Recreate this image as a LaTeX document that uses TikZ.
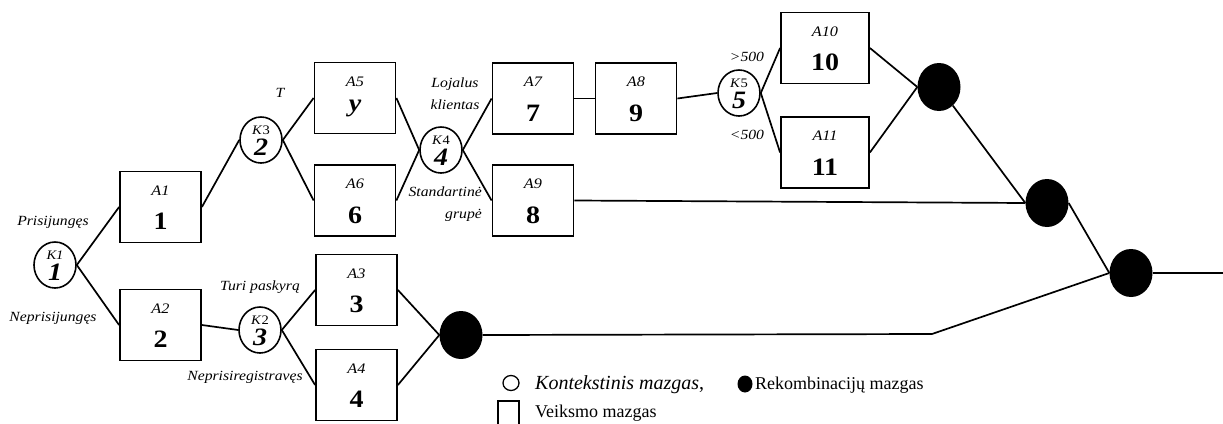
\documentclass[tikz,border=0pt]{standalone}
\usepackage{fontspec}
\setmainfont[FakeStretch=1.12]{Liberation Serif}
\newfontfamily\legfont{Liberation Serif}
\usetikzlibrary{shapes.geometric}
\tikzset{
 act/.style={draw, line width=1.8pt, minimum width=81pt, minimum height=71pt, inner sep=0},
 ctx/.style={draw, ellipse, line width=1.6pt, minimum width=42pt, minimum height=46pt, inner sep=0},
 rec/.style={fill=black, ellipse, minimum width=43pt, minimum height=48pt, inner sep=0},
 ln/.style={line width=1.7pt},
 alab/.style={font=\fontsize{14.5}{16}\selectfont\itshape, inner sep=0},
 anum/.style={font=\fontsize{25}{27}\selectfont\bfseries, inner sep=0},
 klab/.style={font=\fontsize{13}{14}\selectfont, inner sep=0},
 knum/.style={font=\fontsize{25}{27}\selectfont\bfseries\itshape, inner sep=0},
 blab/.style={font=\fontsize{14}{22}\selectfont\itshape, inner sep=0, align=center},
 leg/.style={font=\legfont\fontsize{18}{20}\selectfont, inner sep=0, anchor=base west},
}
\begin{document}
\begin{tikzpicture}[x=1pt,y=-1pt]
\useasboundingbox (0,0) rectangle (1223,423);
% context nodes
\node[ctx] (K1) at (55,265) {};
\node[klab] (K1a) at ([yshift=10pt]K1.center) {\itshape K1};
\node[knum] (K1b) at ([yshift=-7pt]K1.center) {1};
\node[ctx] (K2) at (260,330) {};
\node[klab] (K2a) at ([yshift=10pt]K2.center) {\textit{K}2};
\node[knum] (K2b) at ([yshift=-7pt]K2.center) {3};
\node[ctx] (K3) at (261,140) {};
\node[klab] (K3a) at ([yshift=10pt]K3.center) {\textit{K}3};
\node[knum] (K3b) at ([yshift=-7pt]K3.center) {2};
\node[ctx] (K4) at (441,150) {};
\node[klab] (K4a) at ([yshift=10pt]K4.center) {\textit{K}4};
\node[knum] (K4b) at ([yshift=-7pt]K4.center) {4};
\node[ctx] (K5) at (739,93) {};
\node[klab] (K5a) at ([yshift=10pt]K5.center) {\textit{K}5};
\node[knum] (K5b) at ([yshift=-7pt]K5.center) {5};
% action nodes
\node[act] (A1) at (160.5,207) {};
\node[act] (A2) at (160.5,325) {};
\node[act] (A3) at (356.5,290) {};
\node[act] (A4) at (356.5,385) {};
\node[act] (A5) at (355,98) {};
\node[act] (A6) at (355,200.5) {};
\node[act] (A7) at (533,98.5) {};
\node[act] (A8) at (636,98.5) {};
\node[act] (A9) at (533,200.5) {};
\node[act, minimum width=88pt] (A10) at (825,48) {};
\node[act, minimum width=88pt] (A11) at (825,152.5) {};
\foreach \n/\lab/\num in {A1/A1/1, A2/A2/2, A3/A3/3, A4/A4/4, A6/A6/6, A7/A7/7, A8/A8/9, A9/A9/8, A10/A10/10, A11/A11/11}{
  \node[alab] (\n a) at ([yshift=-20pt]\n.north) {\lab};
  \node[anum] (\n b) at ([yshift=-51pt]\n.north) {\num};
}
\node[alab] (A5a) at ([yshift=-20pt]A5.north) {A5};
\node[anum] (A5b) at ([yshift=-47pt]A5.north) {\itshape y};
% recombination nodes
\node[rec] (R0) at (461,335) {};
\node[rec] (R1) at (939,87) {};
\node[rec] (R2) at (1047,203) {};
\node[rec] (R3) at (1131,273) {};
\coordinate (Rend) at (1223,273);
\coordinate (bend) at (932,334);
% connectors
\draw[ln] (K1.east) -- (A1.west);
\draw[ln] (K1.east) -- (A2.west);
\draw[ln] (A1.east) -- (K3.west);
\draw[ln] (K3.east) -- (A5.west);
\draw[ln] (K3.east) -- (A6.west);
\draw[ln] (A5.east) -- (K4.west);
\draw[ln] (A6.east) -- (K4.west);
\draw[ln] (K4.east) -- (A7.west);
\draw[ln] (K4.east) -- (A9.west);
\draw[ln] (A7.east) -- (A8.west);
\draw[ln] (A8.east) -- (K5.west);
\draw[ln] (K5.east) -- (A10.west);
\draw[ln] (K5.east) -- (A11.west);
\draw[ln] (A10.east) -- (R1.west);
\draw[ln] (A11.east) -- (R1.west);
\draw[ln] (R1) -- (R2.west);
\draw[ln] (A9.east) -- (R2.west);
\draw[ln] (R2.east) -- (R3.west);
\draw[ln] (R3.east) -- (Rend);
\draw[ln] (A2.east) -- (K2.west);
\draw[ln] (K2.east) -- (A3.west);
\draw[ln] (K2.east) -- (A4.west);
\draw[ln] (A3.east) -- (R0.west);
\draw[ln] (A4.east) -- (R0.west);
\draw[ln] (R0.east) -- (bend) -- (R3.west);
% branch labels
\node[blab] (t1) at (53,222) {Prisijungęs};
\node[blab] (t2) at (53,318) {Neprisijungęs};
\node[blab] (t3) at (260,287) {Turi paskyrą};
\node[blab] (t4) at (245,377) {Neprisiregistravęs};
\node[blab] (t5) at (280,93) {T};
\node[blab] (t6) at (455,94) {Lojalus\\klientas};
\node[blab, align=right, anchor=east] (t7) at (482,204) {Standartinė\\grupė};
\node[blab] (t8) at (747,57) {>500};
\node[blab] (t9) at (747,135) {<500};
% legend
\node[draw, ellipse, line width=1.3pt, minimum width=16pt, minimum height=15pt, inner sep=0] (L1) at (511,383) {};
\node[leg, font=\legfont\fontsize{20}{22}\selectfont] (L1t) at (535,389) {\textit{Kontekstinis mazgas},};
\node[rec, minimum width=15pt, minimum height=17pt] (L2) at (745,384) {};
\node[leg] (L2t) at (755,389) {Rekombinacijų mazgas};
\draw[line width=1.3pt] (498,425) -- (498,401) -- (519,401) -- (519,425);
\node[leg] (L3t) at (535,417) {Veiksmo mazgas};
\end{tikzpicture}
\end{document}
